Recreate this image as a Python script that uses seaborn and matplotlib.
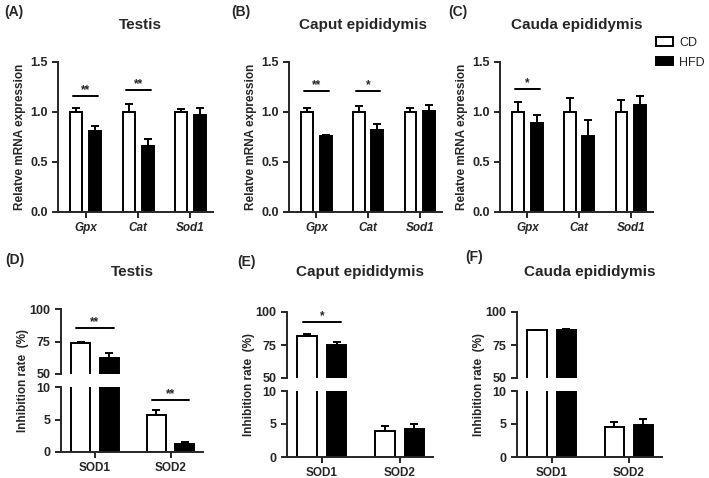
import numpy as np
import pandas as pd
import matplotlib
matplotlib.use("Agg")
import matplotlib.pyplot as plt
import seaborn as sns

sns.set_style("ticks")
plt.rcParams["font.family"] = ["Liberation Sans", "DejaVu Sans"]

# Data (mean, SEM)
groups = ["CD", "HFD"]
genes = ["Gpx", "Cat", "Sod1"]
enzymes = ["SOD1", "SOD2"]

# Top row: relative mRNA expression
testis_cd = [1.0, 1.0, 1.0]
testis_cd_err = [0.04, 0.08, 0.03]
testis_hfd = [0.81, 0.655, 0.97]
testis_hfd_err = [0.05, 0.075, 0.075]
testis_sig = [("Gpx", "**", 1.16), ("Cat", "**", 1.22)]

caput_cd = [1.0, 1.0, 1.0]
caput_cd_err = [0.045, 0.06, 0.04]
caput_hfd = [0.755, 0.825, 1.015]
caput_hfd_err = [0.015, 0.055, 0.06]
caput_sig = [("Gpx", "**", 1.21), ("Cat", "*", 1.21)]

cauda_cd = [1.0, 1.0, 1.0]
cauda_cd_err = [0.1, 0.135, 0.12]
cauda_hfd = [0.885, 0.76, 1.07]
cauda_hfd_err = [0.08, 0.16, 0.09]
cauda_sig = [("Gpx", "*", 1.23)]

# Bottom row: SOD inhibition rate (%)
testis_sod_cd = [73.5, 5.7]
testis_sod_cd_err = [1.5, 0.8]
testis_sod_hfd = [62.5, 1.2]
testis_sod_hfd_err = [4.0, 0.35]
testis_sod_sig = [("SOD1", "**", 85.4), ("SOD2", "**", 8.05)]

caput_sod_cd = [81.5, 3.9]
caput_sod_cd_err = [1.5, 0.75]
caput_sod_hfd = [75.0, 4.3]
caput_sod_hfd_err = [2.5, 0.7]
caput_sod_sig = [("SOD1", "*", 92.4)]

cauda_sod_cd = [86.0, 4.6]
cauda_sod_cd_err = [0.5, 0.7]
cauda_sod_hfd = [86.5, 4.9]
cauda_sod_hfd_err = [0.5, 0.9]
cauda_sod_sig = []

palette = {"CD": "white", "HFD": "black"}
LW = 1.4
W, H = 709, 478


def draw_bars(ax, cats, cd, cd_err, hfd, hfd_err, sig, width, gap, legend=False):
    df = pd.DataFrame({
        "cat": cats * 2,
        "group": ["CD"] * len(cats) + ["HFD"] * len(cats),
        "value": cd + hfd,
    })
    sns.barplot(data=df, x="cat", y="value", hue="group", order=cats,
                hue_order=groups, palette=palette, edgecolor="black",
                linewidth=LW, errorbar=None, width=width, gap=gap,
                legend=legend, ax=ax)
    centers = []
    for cont, errs in zip(ax.containers, [cd_err, hfd_err]):
        xs = [b.get_x() + b.get_width() / 2 for b in cont]
        ys = [b.get_height() for b in cont]
        centers.append(xs)
        ax.errorbar(xs, ys, yerr=[np.zeros(len(errs)), errs], fmt="none",
                    ecolor="black", elinewidth=LW, capsize=3, capthick=LW)
    for cat, label, y in sig:
        i = cats.index(cat)
        x0, x1 = centers[0][i] - 0.06, centers[1][i] + 0.06
        ax.plot([x0, x1], [y, y], color="black", lw=LW)
        ax.text((x0 + x1) / 2, y, label, ha="center", va="bottom",
                fontsize=8.5, fontweight="bold")
    ax.set_xlabel("")
    ax.set_ylabel("")


def style(ax, bottom=True, xsize=8.5):
    sns.despine(ax=ax, bottom=not bottom)
    for s in ["left", "bottom"]:
        ax.spines[s].set_linewidth(LW)
    ax.tick_params(width=LW, length=4)
    ax.tick_params(axis="y", labelsize=9)
    ax.tick_params(axis="x", labelsize=xsize)
    for t in ax.get_yticklabels() + ax.get_xticklabels():
        t.set_fontweight("bold")


def fig_axes(x0, y0, x1, y1):
    return fig.add_axes([x0 / W, 1 - y1 / H, (x1 - x0) / W, (y1 - y0) / H])


def fig_label(x, y, s, size, **kw):
    fig.text(x / W, 1 - y / H, s, fontsize=size, fontweight="bold",
             va="center", **kw)


fig = plt.figure(figsize=(7.09, 4.78), dpi=100)

# ---- top row ----
top = [
    (58, 213, "Testis", 140, "(A)", 4, testis_cd, testis_cd_err, testis_hfd, testis_hfd_err, testis_sig),
    (289, 442, "Caput epididymis", 363, "(B)", 231, caput_cd, caput_cd_err, caput_hfd, caput_hfd_err, caput_sig),
    (500, 653, "Cauda epididymis", 577, "(C)", 448, cauda_cd, cauda_cd_err, cauda_hfd, cauda_hfd_err, cauda_sig),
]
for k, (x0, x1, title, tx, lab, lx, cd, cde, hfd, hfde, sig) in enumerate(top):
    ax = fig_axes(x0, 62, x1, 212)
    draw_bars(ax, genes, cd, cde, hfd, hfde, sig, width=0.72, gap=0.36,
              legend=(k == 2))
    ax.set_ylim(0, 1.5)
    ax.set_xlim(-0.53, 2.43)
    ax.set_yticks([0, 0.5, 1.0, 1.5])
    ax.set_yticklabels(["0.0", "0.5", "1.0", "1.5"])
    style(ax)
    for t in ax.get_xticklabels():
        t.set_fontstyle("italic")
    ax.set_ylabel("Relatve mRNA expression", fontsize=8.5, fontweight="bold",
                  labelpad=3)
    fig_label(tx, 25, title, 11, ha="center")
    fig_label(lx, 12, lab, 10, ha="left")
    if k == 2:
        sns.move_legend(ax, loc="upper left", bbox_to_anchor=(0.985, 1.2),
                        frameon=False, title=None, fontsize=9,
                        borderaxespad=0, handlelength=1.35, handleheight=0.65,
                        handletextpad=0.55, labelspacing=0.6)

# ---- bottom row (broken y axis) ----
bottom = [
    (61, 203, 309, 374, 387, 452, "Testis", 132, "(D)", 5, 260,
     testis_sod_cd, testis_sod_cd_err, testis_sod_hfd, testis_sod_hfd_err, testis_sod_sig),
    (287, 433, 312, 378, 391, 457, "Caput epididymis", 360, "(E)", 237, 262,
     caput_sod_cd, caput_sod_cd_err, caput_sod_hfd, caput_sod_hfd_err, caput_sod_sig),
    (517, 662, 312, 378, 391, 457, "Cauda epididymis", 590, "(F)", 465, 257,
     cauda_sod_cd, cauda_sod_cd_err, cauda_sod_hfd, cauda_sod_hfd_err, cauda_sod_sig),
]
for (x0, x1, ut, ub, lt, lb, title, tx, lab, lx, ly,
     cd, cde, hfd, hfde, sig) in bottom:
    up = fig_axes(x0, ut, x1, ub)
    low = fig_axes(x0, lt, x1, lb)
    up.set_ylim(50, 100)
    low.set_ylim(0, 10)
    draw_bars(up, enzymes, cd, cde, hfd, hfde,
              [s for s in sig if s[2] > 50], width=0.76, gap=0.34)
    draw_bars(low, enzymes, cd, cde, hfd, hfde,
              [s for s in sig if s[2] < 10], width=0.76, gap=0.34)
    for a, lim, ticks in [(up, (50, 100), [50, 75, 100]), (low, (0, 10), [0, 5, 10])]:
        a.set_ylim(*lim)
        a.set_xlim(-0.45, 1.43)
        a.set_yticks(ticks)
    up.set_xticks([])
    style(up, bottom=False)
    style(low, xsize=8.5)
    fig_label(tx, 272, title, 11, ha="center")
    fig_label(lx, ly, lab, 10, ha="left")
    fig.text((x0 - 38) / W, 1 - ((ut + lb) / 2) / H, "Inhibition rate  (%)",
             rotation=90, ha="center", va="center", fontsize=8.5,
             fontweight="bold")

fig.savefig("out.png", dpi=100)
